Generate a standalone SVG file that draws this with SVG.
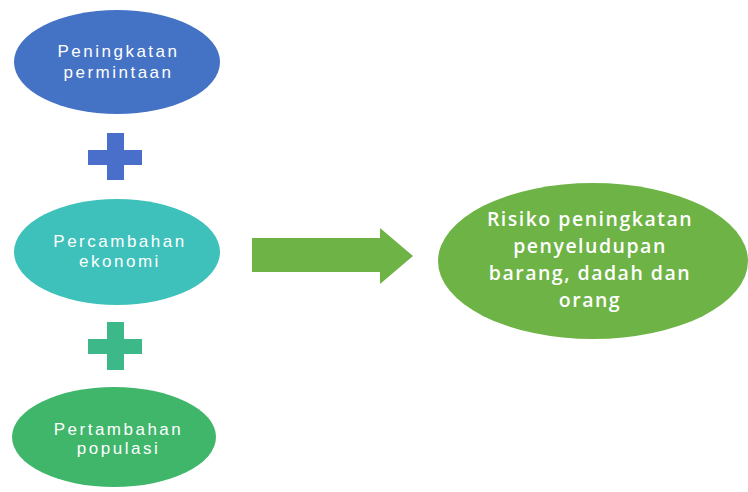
<svg xmlns="http://www.w3.org/2000/svg" width="748" height="492" viewBox="0 0 748 492">
<style>
.t{fill:#fff;text-anchor:middle;}
.s{font-family:"Liberation Sans","Noto Sans",sans-serif;font-size:17px;letter-spacing:2.5px;}
.b{font-family:"Open Sans","Noto Sans",sans-serif;font-size:19.5px;font-weight:600;letter-spacing:1.5px;}
</style>
<rect width="748" height="492" fill="#fff"/>
<g id="n1">
<ellipse cx="117" cy="62" rx="103" ry="52" fill="#4472C4"/>
<text class="t s" x="118.5" y="57">Peningkatan</text>
<text class="t s" x="118.5" y="78">permintaan</text>
</g>
<g id="plus1">
<path d="M107 133h17v17h18v15h-18v15h-17v-15h-19v-15h19z" fill="#4A6FCA"/>
</g>
<g id="n2">
<ellipse cx="117" cy="252" rx="103" ry="53" fill="#3EC1BA"/>
<text class="t s" x="120" y="247">Percambahan</text>
<text class="t s" x="120" y="267">ekonomi</text>
</g>
<g id="plus2">
<path d="M107 322h17v17h18v15h-18v16h-17v-16h-19v-15h19z" fill="#3DB889"/>
</g>
<g id="n3">
<ellipse cx="114" cy="437" rx="102" ry="50" fill="#40B66B"/>
<text class="t s" x="118.5" y="435">Pertambahan</text>
<text class="t s" x="118.5" y="454">populasi</text>
</g>
<g id="connectors">
<path d="M252 238H380V228L413 256L380 284V272H252z" fill="#6EB345"/>
</g>
<g id="n4">
<ellipse cx="593" cy="261" rx="155" ry="78" fill="#6EB345"/>
<text class="t b" x="590" y="226">Risiko peningkatan</text>
<text class="t b" x="590" y="253">penyeludupan</text>
<text class="t b" x="590" y="280">barang, dadah dan</text>
<text class="t b" x="590" y="307">orang</text>
</g>
</svg>
